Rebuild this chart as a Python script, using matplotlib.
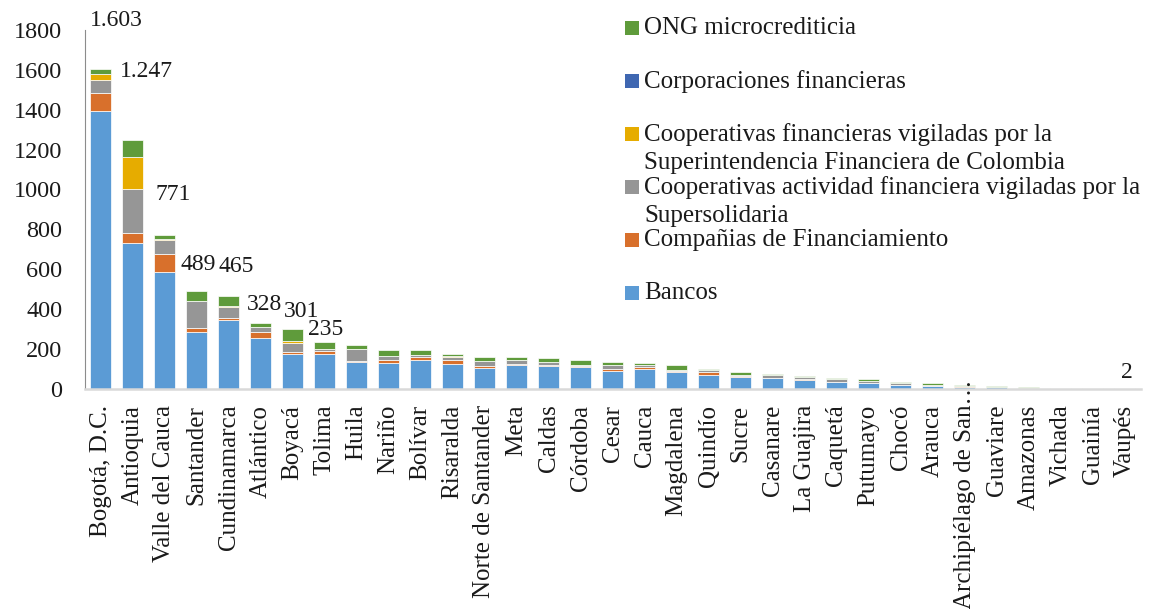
import matplotlib
matplotlib.use('Agg')
import matplotlib.pyplot as plt
import matplotlib.transforms as mtransforms
from matplotlib.patches import Rectangle
import numpy as np

plt.rcParams['font.family'] = ['Liberation Serif', 'DejaVu Serif']

departamentos = ['Bogotá, D.C.', 'Antioquia', 'Valle del Cauca', 'Santander', 'Cundinamarca',
                 'Atlántico', 'Boyacá', 'Tolima', 'Huila', 'Nariño', 'Bolívar', 'Risaralda',
                 'Norte de Santander', 'Meta', 'Caldas', 'Córdoba', 'Cesar', 'Cauca',
                 'Magdalena', 'Quindío', 'Sucre', 'Casanare', 'La Guajira', 'Caquetá',
                 'Putumayo', 'Chocó', 'Arauca', 'Archipiélago de San…', 'Guaviare',
                 'Amazonas', 'Vichada', 'Guainía', 'Vaupés']

bancos = [1394, 729, 586, 283, 347, 256, 176, 176, 134, 130, 144, 122, 102, 117, 114, 109,
          90, 100, 84, 70, 57, 54, 45, 33, 27, 17, 15, 8, 7, 4, 5, 2, 2]
companias = [92, 53, 89, 24, 10, 30, 8, 12, 5, 12, 13, 23, 12, 5, 5, 3,
             8, 9, 6, 13, 8, 0, 3, 0, 0, 2, 0, 4, 0, 0, 0, 0, 0]
coop_actividad = [63, 218, 70, 132, 53, 22, 45, 11, 58, 20, 12, 14, 25, 20, 16, 8,
                  20, 11, 5, 12, 4, 13, 9, 15, 10, 10, 5, 0, 2, 2, 0, 1, 0]
coop_financieras = [32, 164, 4, 0, 5, 4, 9, 2, 2, 0, 0, 5, 0, 0, 0, 0,
                    2, 0, 0, 0, 0, 0, 0, 0, 0, 0, 0, 2, 0, 0, 0, 0, 0]
corporaciones = [0] * 33
ong = [22, 83, 22, 50, 50, 16, 63, 34, 22, 32, 23, 10, 18, 15, 19, 22,
       15, 10, 22, 4, 15, 7, 7, 7, 11, 4, 8, 3, 4, 2, 0, 0, 0]

series = [
    ('Bancos', bancos, '#5B9BD5'),
    ('Compañias de Financiamiento', companias, '#D8702C'),
    ('Cooperativas actividad financiera vigiladas por la\nSupersolidaria', coop_actividad, '#969696'),
    ('Cooperativas financieras vigiladas por la\nSuperintendencia Financiera de Colombia', coop_financieras, '#E6AC00'),
    ('Corporaciones financieras', corporaciones, '#3F67B1'),
    ('ONG microcrediticia', ong, '#5F9B3B'),
]

# indices de barras con etiqueta y desplazamiento del texto
etiquetas = [0, 1, 2, 3, 4, 5, 6, 7, 32]
desp_x = [0.48, 0.44, 0.27, 0.06, 0.23, 0.14, 0.28, 0.04, 0.08]
desp_y = [245, 347, 205, 135, 149, 97, 88, 64, 78]

W, H = 1151, 609
fig = plt.figure(figsize=(W / 100, H / 100), dpi=100)
ax = fig.add_axes([84.5 / W, 1 - 388.7 / H, 1056 / W, (388.7 - 30) / H])

x = np.arange(len(departamentos))
bottom = np.zeros(len(departamentos))
for nombre, vals, color in series:
    vals = np.array(vals, dtype=float)
    ax.bar(x, vals, 0.66, bottom=bottom, color=color, edgecolor='white', linewidth=0.5)
    bottom += vals

totales = bottom
for k, i in enumerate(etiquetas):
    txt = f"{int(totales[i]):,}".replace(',', '.')
    ax.text(i + desp_x[k], totales[i] + desp_y[k], txt, ha='center', va='center',
            fontsize=17, color='#1a1a1a', clip_on=False)

ax.set_xlim(-0.5, len(departamentos) - 0.5)
ax.set_ylim(0, 1800)
ax.set_yticks(range(0, 1801, 200))
ax.tick_params(axis='y', length=0, pad=16, labelsize=17.5, labelcolor='#1a1a1a')
ax.set_xticks(x)
ax.set_xticklabels(departamentos, rotation=90, fontsize=18, color='#1a1a1a')
ax.tick_params(axis='x', length=0, pad=11.5)

# la etiqueta larga va desplazada hacia arriba
lab = ax.get_xticklabels()[27]
lab.set_transform(lab.get_transform() + mtransforms.ScaledTranslation(0, 0.25, fig.dpi_scale_trans))

for s in ['top', 'right']:
    ax.spines[s].set_visible(False)
ax.spines['left'].set_color('#8C8C8C')
ax.spines['left'].set_linewidth(0.8)
ax.spines['bottom'].set_color('#D9D9D9')
ax.spines['bottom'].set_linewidth(1.8)

# leyenda manual (orden inverso, marcador alineado con la primera linea)
y_px = 28.3
for nombre, vals, color in series[::-1]:
    lineas = nombre.split('\n')
    fig.add_artist(Rectangle((625 / W, 1 - (y_px + 7) / H), 14 / W, 14 / H,
                             transform=fig.transFigure, facecolor=color, edgecolor='none'))
    for j, linea in enumerate(lineas):
        fig.text(644 / W, 1 - (y_px + 29 * j) / H, linea, ha='left', va='center',
                 fontsize=18, color='#1a1a1a')
    y_px += 53

fig.savefig('out.png', dpi=100)
